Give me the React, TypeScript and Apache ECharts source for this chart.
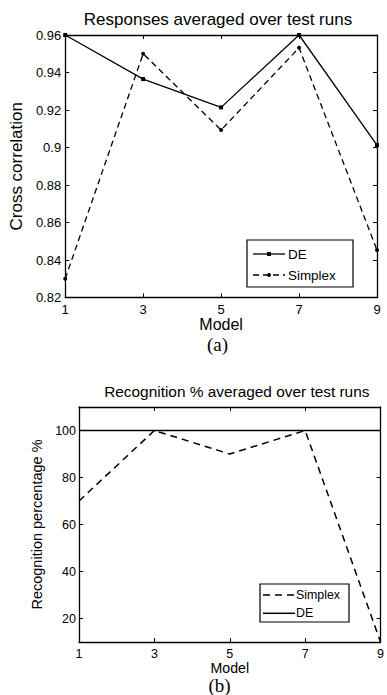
import React, { useEffect, useRef } from "react";
import * as echarts from "echarts";

const models = ["1", "3", "5", "7", "9"];
const deCorr = [0.96, 0.9365, 0.9214, 0.96, 0.9013];
const simplexCorr = [0.83, 0.95, 0.9093, 0.9532, 0.8453];
const simplexRecog = [70, 100, 90, 100, 10];
const deRecog = [100, 100, 100, 100, 100];
const recogTicks = [20, 40, 60, 80, 100];

const FONT = "Liberation Sans, Arial, sans-serif";
const SERIF = "Liberation Serif, Times New Roman, serif";

export default function App() {
  const ref = useRef<HTMLDivElement>(null);
  useEffect(() => {
    if (!ref.current) return;
    const chart = echarts.init(ref.current, null, { renderer: "svg" });
    const axLine = { show: true, lineStyle: { color: "#000", width: 1.3 } };
    const tick = { show: true, inside: true, length: 4, lineStyle: { color: "#000", width: 1 } };
    const fmt = (v: number) => String(+v.toFixed(2));

    const option: any = {
      animation: false,
      backgroundColor: "#fff",
      grid: [
        { left: 58, top: 35, width: 319, height: 262.5 },
        { left: 79, top: 407, width: 303, height: 235 },
      ],
      xAxis: [
        {
          gridIndex: 0, type: "category", data: models, boundaryGap: false, position: "bottom",
          axisLine: axLine, axisTick: tick, splitLine: { show: false },
          axisLabel: { color: "#000", fontSize: 13, fontFamily: FONT, margin: 5 },
          name: "Model", nameLocation: "middle", nameGap: 19,
          nameTextStyle: { color: "#000", fontSize: 16, fontFamily: FONT },
        },
        {
          gridIndex: 0, type: "category", data: models, boundaryGap: false, position: "top",
          axisLine: axLine, axisTick: tick, axisLabel: { show: false }, splitLine: { show: false },
        },
        {
          gridIndex: 1, type: "category", data: models, boundaryGap: false, position: "bottom",
          axisLine: axLine, axisTick: tick, splitLine: { show: false },
          axisLabel: { color: "#000", fontSize: 12.5, fontFamily: FONT, margin: 5 },
          name: "Model", nameLocation: "middle", nameGap: 18,
          nameTextStyle: { color: "#000", fontSize: 14.2, fontFamily: FONT },
        },
        {
          gridIndex: 1, type: "category", data: models, boundaryGap: false, position: "top",
          axisLine: axLine, axisTick: tick, axisLabel: { show: false }, splitLine: { show: false },
        },
      ],
      yAxis: [
        {
          gridIndex: 0, type: "value", min: 0.82, max: 0.96, interval: 0.02, position: "left",
          axisLine: axLine, axisTick: tick, splitLine: { show: false },
          axisLabel: { color: "#000", fontSize: 13, fontFamily: FONT, margin: 4, formatter: fmt },
          name: "Cross correlation", nameLocation: "middle", nameGap: 36,
          nameTextStyle: { color: "#000", fontSize: 17, fontFamily: FONT },
        },
        {
          gridIndex: 0, type: "value", min: 0.82, max: 0.96, interval: 0.02, position: "right",
          axisLine: axLine, axisTick: tick, axisLabel: { show: false }, splitLine: { show: false },
        },
        {
          gridIndex: 1, type: "value", min: 10, max: 110, interval: 10, position: "left",
          axisLine: axLine, axisTick: { ...tick, customValues: recogTicks }, splitLine: { show: false },
          axisLabel: { color: "#000", fontSize: 12.5, fontFamily: FONT, margin: 3, customValues: recogTicks },
          name: "Recognition percentage %", nameLocation: "middle", nameGap: 30,
          nameTextStyle: { color: "#000", fontSize: 14.5, fontFamily: FONT },
        },
        {
          gridIndex: 1, type: "value", min: 10, max: 110, interval: 10, position: "right",
          axisLine: axLine, axisTick: { ...tick, customValues: recogTicks }, axisLabel: { show: false },
          splitLine: { show: false },
        },
      ],
      series: [
        {
          name: "DE", type: "line", xAxisIndex: 0, yAxisIndex: 0, data: deCorr, clip: false,
          symbol: "rect", symbolSize: 4, showSymbol: true,
          lineStyle: { color: "#000", width: 1.3 }, itemStyle: { color: "#000" },
        },
        {
          name: "Simplex", type: "line", xAxisIndex: 0, yAxisIndex: 0, data: simplexCorr, clip: false,
          symbol: "circle", symbolSize: 4, showSymbol: true,
          lineStyle: { color: "#000", width: 1.3, type: [6, 4] }, itemStyle: { color: "#000" },
        },
        {
          name: "Simplex", type: "line", xAxisIndex: 2, yAxisIndex: 2, data: simplexRecog, clip: false,
          symbol: "none",
          lineStyle: { color: "#000", width: 1.5, type: [7, 5] },
        },
        {
          name: "DE", type: "line", xAxisIndex: 2, yAxisIndex: 2, data: deRecog, clip: false,
          symbol: "none",
          lineStyle: { color: "#000", width: 1.5 },
        },
      ],
      graphic: [
        {
          type: "text", x: 218, y: 19, z: 10,
          style: { text: "Responses averaged over test runs", fill: "#000", font: `17px ${FONT}`, align: "center", verticalAlign: "middle" },
        },
        {
          type: "text", x: 217.5, y: 344, z: 10,
          style: { text: "(a)", fill: "#000", font: `19px ${SERIF}`, align: "center", verticalAlign: "middle" },
        },
        {
          type: "text", x: 236.8, y: 391, z: 10,
          style: { text: "Recognition % averaged over test runs", fill: "#000", font: `15.4px ${FONT}`, align: "center", verticalAlign: "middle" },
        },
        {
          type: "text", x: 219.5, y: 685, z: 10,
          style: { text: "(b)", fill: "#000", font: `19px ${SERIF}`, align: "center", verticalAlign: "middle" },
        },
        // legend (a)
        { type: "rect", z: 20, shape: { x: 247, y: 240, width: 106, height: 47 }, style: { fill: "#fff", stroke: "#000", lineWidth: 1.2 } },
        { type: "line", z: 21, shape: { x1: 253, y1: 254, x2: 285, y2: 254 }, style: { stroke: "#000", lineWidth: 1.3 } },
        { type: "rect", z: 21, shape: { x: 267, y: 252, width: 4, height: 4 }, style: { fill: "#000" } },
        { type: "text", z: 21, x: 288, y: 254, style: { text: "DE", fill: "#000", font: `13.5px ${FONT}`, verticalAlign: "middle" } },
        { type: "line", z: 21, shape: { x1: 253, y1: 275, x2: 285, y2: 275 }, style: { stroke: "#000", lineWidth: 1.3, lineDash: [6, 4] } },
        { type: "circle", z: 21, shape: { cx: 269, cy: 275, r: 2 }, style: { fill: "#000" } },
        { type: "text", z: 21, x: 288, y: 275, style: { text: "Simplex", fill: "#000", font: `13.4px ${FONT}`, verticalAlign: "middle" } },
        // legend (b)
        { type: "rect", z: 20, shape: { x: 260, y: 584, width: 89, height: 38 }, style: { fill: "#fff", stroke: "#000", lineWidth: 1.2 } },
        { type: "line", z: 21, shape: { x1: 263, y1: 595, x2: 295, y2: 595 }, style: { stroke: "#000", lineWidth: 1.5, lineDash: [7, 5] } },
        { type: "text", z: 21, x: 296, y: 595, style: { text: "Simplex", fill: "#000", font: `12.4px ${FONT}`, verticalAlign: "middle" } },
        { type: "line", z: 21, shape: { x1: 263, y1: 613.3, x2: 295, y2: 613.3 }, style: { stroke: "#000", lineWidth: 1.5 } },
        { type: "text", z: 21, x: 296, y: 613.3, style: { text: "DE", fill: "#000", font: `12.4px ${FONT}`, verticalAlign: "middle" } },
      ],
    };
    chart.setOption(option);
    return () => chart.dispose();
  }, []);
  return (
    <div
      ref={ref}
      style={{ position: "absolute", left: 0, top: 0, width: 387, height: 695, background: "#fff" }}
    />
  );
}
